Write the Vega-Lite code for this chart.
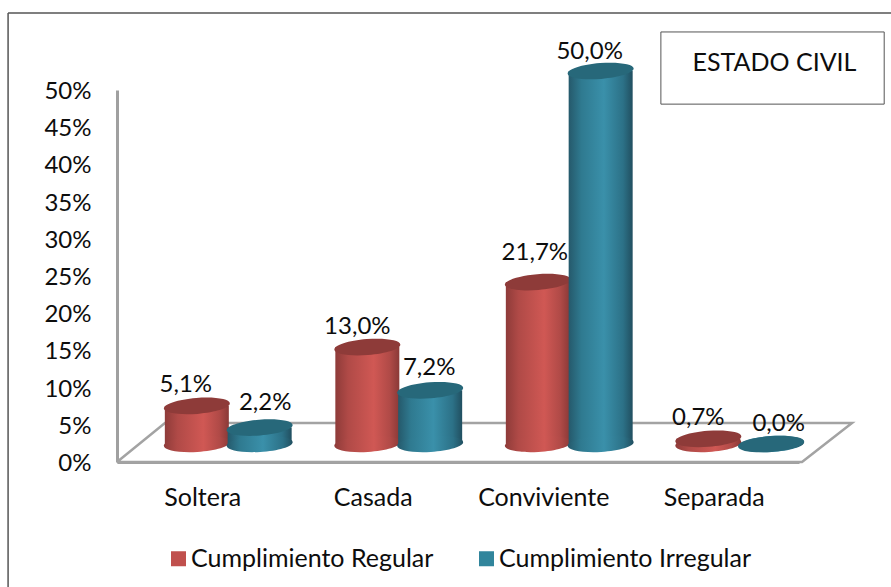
{
"$schema":"https://vega.github.io/schema/vega-lite/v6.json",
"width":685,"height":372,
"autosize":{"type":"none"},
"padding":{"left":117,"top":90,"right":89,"bottom":125},
"background":"white",
"title":{"text":"ESTADO CIVIL","anchor":"middle","frame":"group","dx":315,"dy":85,"offset":18,"fontSize":25,"fontWeight":"normal","font":"Lato","color":"#0d0d0d"},
"config":{"view":{"stroke":null},"font":"Lato","text":{"font":"Lato"}},
"datasets":{
"barras":[
{"estado":"Soltera","serie":"Cumplimiento Regular","valor":5.1,"etiqueta":"5,1%"},
{"estado":"Casada","serie":"Cumplimiento Regular","valor":13.0,"etiqueta":"13,0%"},
{"estado":"Conviviente","serie":"Cumplimiento Regular","valor":21.7,"etiqueta":"21,7%"},
{"estado":"Separada","serie":"Cumplimiento Regular","valor":0.7,"etiqueta":"0,7%"},
{"estado":"Soltera","serie":"Cumplimiento Irregular","valor":2.2,"etiqueta":"2,2%"},
{"estado":"Casada","serie":"Cumplimiento Irregular","valor":7.2,"etiqueta":"7,2%"},
{"estado":"Conviviente","serie":"Cumplimiento Irregular","valor":50.0,"etiqueta":"50,0%"},
{"estado":"Separada","serie":"Cumplimiento Irregular","valor":0.0,"etiqueta":"0,0%"}
],
"marco":[
{"parte":"piso","orden":1,"px":0,"py":0},
{"parte":"piso","orden":2,"px":7,"py":5.24},
{"parte":"piso","orden":3,"px":107.3,"py":5.24},
{"parte":"piso","orden":4,"px":100,"py":0},
{"parte":"piso","orden":5,"px":0,"py":0}
],
"bordeSup":[
{"orden":1,"px":-15.9,"py":60.35},
{"orden":2,"px":113,"py":60.35}
],
"bordeIzq":[
{"orden":1,"px":-15.9,"py":-16.8},
{"orden":2,"px":-15.9,"py":60.35}
],
"caja":[{"px":79.4,"px2":112,"py":57.8,"py2":48.1}]
},
"resolve":{"scale":{"x":"independent","y":"independent","color":"independent"},"axis":{"x":"independent","y":"independent"}},
"layer":[
{
"encoding":{
"x":{"field":"px","type":"quantitative","scale":{"domain":[0,100],"zero":false,"nice":false},"axis":null},
"y":{"field":"py","type":"quantitative","scale":{"domain":[0,50],"nice":false},
"axis":{"values":[0,5,10,15,20,25,30,35,40,45,50],"labelExpr":"datum.value+'%'","title":null,"grid":false,"ticks":false,"domain":true,"domainColor":"#a0a0a0","domainWidth":3,"labelFontSize":24,"labelFont":"Lato","labelColor":"#0d0d0d","labelPadding":26,"labelOffset":1.5}}
},
"layer":[
{"data":{"name":"marco"},"mark":{"type":"line","color":"#a3a3a3","strokeWidth":2.5},"encoding":{"order":{"field":"orden","type":"quantitative"}}},
{"data":{"name":"bordeSup"},"mark":{"type":"line","color":"#7f7f7f","strokeWidth":2.2},"encoding":{"order":{"field":"orden","type":"quantitative"}}},
{"data":{"name":"bordeIzq"},"mark":{"type":"line","color":"#555555","strokeWidth":1.5},"encoding":{"order":{"field":"orden","type":"quantitative"}}},
{"data":{"name":"caja"},"mark":{"type":"rect","fill":"transparent","stroke":"#555555","strokeWidth":1},"encoding":{"x2":{"field":"px2"},"y2":{"field":"py2"}}}
]
},
{
"data":{"name":"barras"},
"mark":{"type":"square","opacity":0},
"encoding":{
"x":{"field":"estado","type":"nominal","sort":["Soltera","Casada","Conviviente","Separada"],"scale":{"range":[0,682]},
"axis":{"title":null,"ticks":false,"domain":true,"domainColor":"#a0a0a0","domainWidth":3,"labelAngle":0,"labelFontSize":25,"labelFont":"Lato","labelColor":"#0d0d0d","labelPadding":23,"grid":false}},
"color":{"field":"serie","type":"nominal","sort":["Cumplimiento Regular","Cumplimiento Irregular"],"scale":{"domain":["Cumplimiento Regular","Cumplimiento Irregular"],"range":["#c0504d","#31859c"]},
"legend":{"title":null,"orient":"none","legendX":49,"legendY":456,"direction":"horizontal","columns":2,"columnPadding":40,"symbolType":"square","symbolSize":225,"symbolOpacity":1,"labelFontSize":25,"labelFont":"Lato","labelColor":"#0d0d0d","labelLimit":400,"labelOffset":0}}
}
},
{
"data":{"name":"barras"},
"encoding":{
"x":{"field":"estado","type":"nominal","sort":["Soltera","Casada","Conviviente","Separada"],"scale":{"range":[26,708],"paddingInner":0.263,"paddingOuter":0.1315},"axis":null},
"xOffset":{"field":"serie","type":"nominal","scale":{"domain":["Cumplimiento Regular","Cumplimiento Irregular"]}},
"y":{"field":"valor","type":"quantitative","stack":null,"scale":{"domain":[0,50],"range":[354,-19],"nice":false},"axis":null},
"text":{"field":"etiqueta","type":"nominal"}
},
"layer":[
{"transform":[{"filter":"datum.serie==='Cumplimiento Regular'"}],"layer":[
{"mark":{"type":"bar","width":64,"color":{"gradient":"linear","x1":0,"y1":0,"x2":1,"y2":0,"stops":[{"offset":0,"color":"#8e3b39"},{"offset":0.2,"color":"#b04a47"},{"offset":0.6,"color":"#d05854"},{"offset":0.85,"color":"#b04a47"},{"offset":1,"color":"#8a3937"}]}}},
{"mark":{"type":"point","shape":"M-1,0.06A1,0.24 -3.4 1 0 1,-0.06A1,0.24 -3.4 1 0 -1,0.06Z","size":4356,"filled":true,"opacity":1,"strokeWidth":0,"fill":{"gradient":"linear","x1":0,"y1":0,"x2":1,"y2":0,"stops":[{"offset":0,"color":"#8e3b39"},{"offset":0.2,"color":"#b04a47"},{"offset":0.6,"color":"#d05854"},{"offset":0.85,"color":"#b04a47"},{"offset":1,"color":"#8a3937"}]}},"encoding":{"y":{"datum":0}}},
{"mark":{"type":"point","shape":"M-1,0.08A1,0.24 -4.6 1 0 1,-0.08A1,0.24 -4.6 1 0 -1,0.08Z","size":4356,"filled":true,"opacity":1,"strokeWidth":0,"fill":"#8e3b39"}}
]},
{"transform":[{"filter":"datum.serie==='Cumplimiento Irregular'"}],"layer":[
{"mark":{"type":"bar","width":64,"color":{"gradient":"linear","x1":0,"y1":0,"x2":1,"y2":0,"stops":[{"offset":0,"color":"#25596b"},{"offset":0.2,"color":"#2f7a90"},{"offset":0.55,"color":"#3a90aa"},{"offset":0.85,"color":"#2c7187"},{"offset":1,"color":"#214f60"}]}}},
{"mark":{"type":"point","shape":"M-1,0.06A1,0.24 -3.4 1 0 1,-0.06A1,0.24 -3.4 1 0 -1,0.06Z","size":4356,"filled":true,"opacity":1,"strokeWidth":0,"fill":{"gradient":"linear","x1":0,"y1":0,"x2":1,"y2":0,"stops":[{"offset":0,"color":"#25596b"},{"offset":0.2,"color":"#2f7a90"},{"offset":0.55,"color":"#3a90aa"},{"offset":0.85,"color":"#2c7187"},{"offset":1,"color":"#214f60"}]}},"encoding":{"y":{"datum":0}}},
{"mark":{"type":"point","shape":"M-1,0.08A1,0.24 -4.6 1 0 1,-0.08A1,0.24 -4.6 1 0 -1,0.08Z","size":4356,"filled":true,"opacity":1,"strokeWidth":0,"fill":"#27687a"}}
]},
{"transform":[{"filter":"datum.etiqueta==='5,1%'"}],"mark":{"type":"text","fontSize":24,"color":"#0d0d0d","dx":-11,"dy":-21}},
{"transform":[{"filter":"datum.etiqueta==='13,0%'"}],"mark":{"type":"text","fontSize":24,"color":"#0d0d0d","dx":-10,"dy":-20}},
{"transform":[{"filter":"datum.etiqueta==='21,7%'"}],"mark":{"type":"text","fontSize":24,"color":"#0d0d0d","dx":-3,"dy":-29}},
{"transform":[{"filter":"datum.etiqueta==='0,7%'"}],"mark":{"type":"text","fontSize":24,"color":"#0d0d0d","dx":-10,"dy":-21}},
{"transform":[{"filter":"datum.etiqueta==='2,2%'"}],"mark":{"type":"text","fontSize":24,"color":"#0d0d0d","dx":5.5,"dy":-24.6}},
{"transform":[{"filter":"datum.etiqueta==='7,2%'"}],"mark":{"type":"text","fontSize":24,"color":"#0d0d0d","dx":-1,"dy":-22}},
{"transform":[{"filter":"datum.etiqueta==='50,0%'"}],"mark":{"type":"text","fontSize":24,"color":"#0d0d0d","dx":-11,"dy":-19}},
{"transform":[{"filter":"datum.etiqueta==='0,0%'"}],"mark":{"type":"text","fontSize":24,"color":"#0d0d0d","dx":7.5,"dy":-20}}
]
}
]
}
